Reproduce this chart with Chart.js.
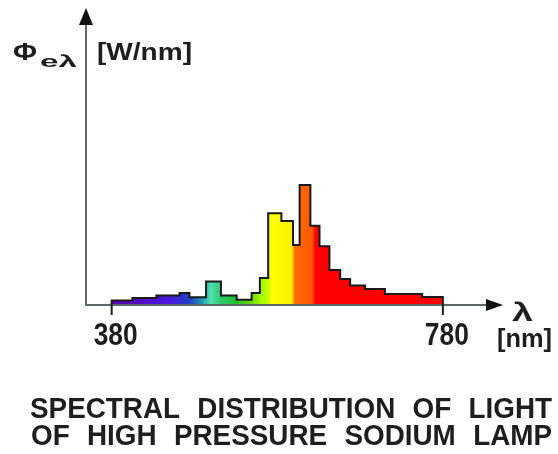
<!DOCTYPE html>
<html>
<head>
<meta charset="utf-8">
<script src="https://cdn.jsdelivr.net/npm/chart.js@4/dist/chart.umd.min.js"></script>
<style>
  body { margin: 0; background: #fff; }
  #wrap { width: 558px; height: 454px; }
</style>
</head>
<body>
<div id="wrap"><canvas id="myChart" width="558" height="454"></canvas></div>
<script>
// left edge of every wavelength bin in nm, the last one closes the spectrum
const binEdges = [380, 405, 434, 462, 474, 494, 512, 531, 549, 559, 569, 585, 599, 607, 620, 631, 643, 656, 668, 686, 710, 755, 780];
// relative spectral flux of each bin (peak = 100)
const fluxValues = [3.8, 5.8, 7.9, 10, 6.5, 19.5, 8, 4.3, 10, 22.5, 76.5, 70, 50, 100, 66, 49, 29.2, 21.7, 16.3, 13.3, 9.2, 6.7];
const xTicks = [380, 780];
const yAxisLabel = ['Φ', 'eλ', '[W/nm]'];
const xAxisLabel = ['λ', '[nm]'];
const titleLines = ['SPECTRAL DISTRIBUTION OF LIGHT', 'OF HIGH PRESSURE SODIUM LAMP'];
// colour of the light along the spectrum
const spectrumNm = [380, 450, 474, 490, 500, 512, 530, 550, 562, 570, 572, 598, 601, 622, 626, 780];
const spectrumColors = ['#5a00b4', '#4a18dc', '#2040c8', '#20a0b0', '#50e0b0', '#30c870', '#20c030', '#70e000', '#a8ff00', '#c8ff00', '#ffff00', '#fff000', '#ff6a00', '#ff5a00', '#ff0000', '#ff0000'];

const FONT = '"Liberation Sans", Arial, sans-serif';
const INK = '#1e1e1e';

// build the stepped outline: rise at 380, one point per bin, drop at 780
let stepPoints = new Array();
stepPoints.push({x: binEdges[0], y: 0});
fluxValues.forEach(function(v, i){
    stepPoints.push({x: binEdges[i], y: v});
});
stepPoints.push({x: binEdges[binEdges.length - 1], y: 0});

const spectrumFill = function(context) {
    const chart = context.chart;
    if (!chart.chartArea) return null;
    const xs = chart.scales.x;
    const lo = spectrumNm[0], hi = spectrumNm[spectrumNm.length - 1];
    const g = chart.ctx.createLinearGradient(xs.getPixelForValue(lo), 0, xs.getPixelForValue(hi), 0);
    spectrumNm.forEach(function(nm, i){
        g.addColorStop((nm - lo) / (hi - lo), spectrumColors[i]);
    });
    return g;
}

// text squeezed/stretched to a given width
const drawFitted = function(ctx, text, left, baseline, width, size) {
    ctx.font = 'bold ' + size + 'px ' + FONT;
    const w = ctx.measureText(text).width;
    ctx.save();
    ctx.translate(left, baseline);
    ctx.scale(width / w, 1);
    ctx.fillText(text, 0, 0);
    ctx.restore();
}

// words spread over the full width, like the justified caption
const drawJustified = function(ctx, line, left, right, baseline, size, squeeze) {
    ctx.font = 'bold ' + size + 'px ' + FONT;
    const words = line.split(' ');
    const widths = words.map(function(w){ return ctx.measureText(w).width * squeeze; });
    const total = widths.reduce(function(a, b){ return a + b; }, 0);
    const gap = (right - left - total) / (words.length - 1);
    let x = left;
    words.forEach(function(w, i){
        ctx.save();
        ctx.translate(x, baseline);
        ctx.scale(squeeze, 1);
        ctx.fillText(w, 0, 0);
        ctx.restore();
        x = x + widths[i] + gap;
    });
}

const axesPlugin = {
    id: 'arrowAxes',
    afterDatasetsDraw: function(chart) {
        const ctx = chart.ctx;
        const area = chart.chartArea;
        const xs = chart.scales.x;
        ctx.save();
        ctx.textAlign = 'left';
        ctx.textBaseline = 'alphabetic';

        // axis lines
        ctx.strokeStyle = '#5c6666';
        ctx.lineWidth = 2;
        ctx.beginPath();
        ctx.moveTo(area.left, 22);
        ctx.lineTo(area.left, area.bottom);
        ctx.lineTo(area.right - 12, area.bottom);
        ctx.stroke();

        // arrow heads
        ctx.fillStyle = '#111';
        ctx.beginPath();
        ctx.moveTo(area.left, 8);
        ctx.lineTo(area.left - 7, 25);
        ctx.lineTo(area.left + 7, 25);
        ctx.closePath();
        ctx.fill();
        ctx.beginPath();
        ctx.moveTo(area.right + 3, area.bottom);
        ctx.lineTo(area.right - 14, area.bottom - 6);
        ctx.lineTo(area.right - 14, area.bottom + 6);
        ctx.closePath();
        ctx.fill();

        // ticks and tick labels
        ctx.strokeStyle = INK;
        ctx.lineWidth = 2;
        ctx.fillStyle = INK;
        xTicks.forEach(function(v){
            const px = xs.getPixelForValue(v);
            ctx.beginPath();
            ctx.moveTo(px, area.bottom - 2);
            ctx.lineTo(px, area.bottom + 10);
            ctx.stroke();
            drawFitted(ctx, String(v), px - 18, 345, 44, 32);
        });

        // axis titles
        drawFitted(ctx, yAxisLabel[0], 13, 60, 24, 23);
        drawFitted(ctx, yAxisLabel[1], 40, 67, 37, 17);
        drawFitted(ctx, yAxisLabel[2], 97, 60, 95, 23);
        drawFitted(ctx, xAxisLabel[0], 512, 321, 21, 26);
        drawFitted(ctx, xAxisLabel[1], 497, 347, 55, 26);

        // caption
        drawJustified(ctx, titleLines[0], 30, 552, 418, 29, 0.96);
        drawJustified(ctx, titleLines[1], 31, 552, 445, 29, 0.96);
        ctx.restore();
    }
};

const ctx = document.getElementById('myChart').getContext('2d');
const chart = new Chart(ctx, {
    type: 'line',
    data: {
        datasets: [{
            label: 'HPS lamp',
            data: stepPoints,
            stepped: 'before',
            fill: 'origin',
            backgroundColor: spectrumFill,
            borderColor: '#1a1a1a',
            borderWidth: 2,
            borderJoinStyle: 'miter',
            pointRadius: 0
        }]
    },
    options: {
        responsive: false,
        animation: false,
        layout: { padding: { left: 86, right: 58, top: 5, bottom: 149 } },
        plugins: {
            legend: { display: false },
            tooltip: { enabled: false }
        },
        scales: {
            x: { type: 'linear', min: 349, max: 849, display: false },
            y: { min: 0, max: 250, display: false }
        }
    },
    plugins: [axesPlugin]
});
</script>
</body>
</html>
